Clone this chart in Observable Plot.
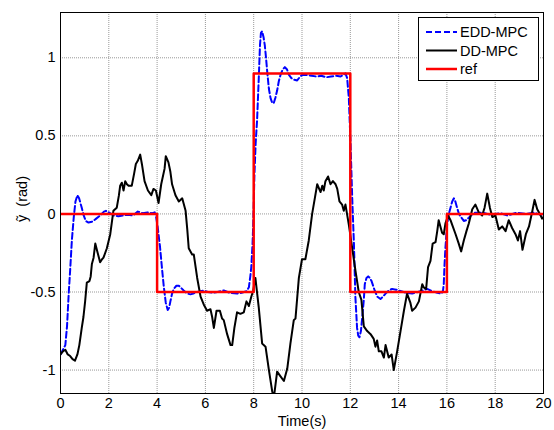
<!DOCTYPE html>
<html>
<head>
<meta charset="utf-8">
<script src="https://cdn.jsdelivr.net/npm/d3@7"></script>
<script src="https://cdn.jsdelivr.net/npm/@observablehq/plot@0.6"></script>
<style>
  html, body { margin: 0; padding: 0; background: #fff; }
  #chart { position: relative; width: 554px; height: 430px; }
</style>
</head>
<body>
<div id="chart"></div>
<script>
// ---- Data ----
const xTicks = [0, 2, 4, 6, 8, 10, 12, 14, 16, 18, 20];
const yTicks = [-1, -0.5, 0, 0.5, 1];
const seriesNames = ["EDD-MPC", "DD-MPC", "ref"];
const xLabel = "Time(s)";
const yLabel = "ỹ\u00a0\u00a0(rad)";

// EDD-MPC (blue dashed)
const eddT = [0.0,0.1,0.2,0.27,0.34,0.4,0.47,0.55,0.62,0.7,0.77,0.88,0.96,1.05,1.16,1.3,1.44,1.64,1.8,1.88,2.0,2.2,2.4,2.6,2.8,3.0,3.2,3.4,3.6,3.8,3.9,3.96,4.02,4.12,4.21,4.28,4.36,4.44,4.5,4.55,4.62,4.69,4.8,4.9,5.0,5.1,5.25,5.38,5.5,5.66,5.8,5.93,6.1,6.3,6.5,6.76,7.0,7.31,7.5,7.7,7.8,7.86,7.9,7.95,7.98,8.03,8.08,8.14,8.21,8.26,8.3,8.35,8.41,8.46,8.51,8.56,8.63,8.7,8.77,8.83,8.9,8.97,9.04,9.11,9.2,9.29,9.38,9.46,9.56,9.66,9.8,9.9,10.0,10.2,10.4,10.6,10.8,11.0,11.2,11.4,11.6,11.8,11.87,11.94,12.01,12.08,12.15,12.21,12.28,12.33,12.38,12.44,12.49,12.56,12.6,12.67,12.74,12.81,12.88,13.01,13.12,13.25,13.35,13.46,13.6,13.73,13.9,14.01,14.3,14.56,14.8,15.0,15.18,15.4,15.6,15.78,15.84,15.87,15.9,15.94,16.01,16.08,16.15,16.22,16.29,16.35,16.42,16.5,16.56,16.7,16.8,16.91,17.11,17.5,17.8,18.2,18.5,18.9,19.3,19.6,19.9,20.0];
const eddV = [-0.90,-0.87,-0.84,-0.72,-0.51,-0.36,-0.17,-0.02,0.08,0.12,0.10,0.04,-0.01,-0.045,-0.055,-0.05,-0.035,-0.01,0.015,0.02,0.01,-0.01,-0.015,-0.01,-0.005,-0.01,0.015,0.005,0.01,0.005,0.01,-0.02,-0.08,-0.21,-0.36,-0.47,-0.57,-0.615,-0.60,-0.56,-0.51,-0.48,-0.46,-0.46,-0.475,-0.49,-0.51,-0.515,-0.51,-0.50,-0.495,-0.49,-0.50,-0.505,-0.50,-0.49,-0.505,-0.51,-0.505,-0.495,-0.47,-0.40,-0.34,-0.20,-0.07,0.25,0.45,0.60,0.87,1.08,1.16,1.17,1.13,1.08,1.00,0.91,0.80,0.74,0.71,0.71,0.745,0.79,0.85,0.89,0.925,0.94,0.925,0.89,0.87,0.86,0.855,0.875,0.89,0.89,0.885,0.88,0.885,0.875,0.88,0.885,0.88,0.90,0.87,0.74,0.45,0.10,-0.19,-0.53,-0.73,-0.78,-0.79,-0.75,-0.67,-0.55,-0.45,-0.41,-0.40,-0.41,-0.43,-0.49,-0.53,-0.545,-0.53,-0.51,-0.49,-0.48,-0.485,-0.49,-0.505,-0.51,-0.50,-0.49,-0.48,-0.495,-0.505,-0.51,-0.49,-0.45,-0.33,-0.215,-0.066,0.0,0.04,0.08,0.10,0.08,0.04,0.0,-0.015,-0.045,-0.04,-0.024,0.008,0.008,-0.005,0.005,-0.01,0.008,0.0,0.008,-0.005,0.0];

// DD-MPC (black solid)
const ddT = [0.0,0.1,0.2,0.3,0.4,0.5,0.6,0.7,0.78,0.88,0.95,1.02,1.09,1.2,1.25,1.3,1.37,1.44,1.54,1.64,1.72,1.78,1.92,2.06,2.19,2.33,2.42,2.47,2.54,2.61,2.68,2.75,2.82,2.95,3.05,3.12,3.2,3.3,3.37,3.48,3.62,3.76,3.85,3.95,4.06,4.17,4.31,4.36,4.47,4.55,4.62,4.76,4.9,5.04,5.18,5.25,5.31,5.45,5.52,5.66,5.8,5.93,6.07,6.21,6.28,6.35,6.46,6.6,6.69,6.76,6.9,7.04,7.11,7.2,7.31,7.45,7.59,7.7,7.8,7.9,7.98,8.07,8.21,8.35,8.49,8.63,8.77,8.84,8.97,9.11,9.25,9.39,9.52,9.66,9.73,9.87,10.0,10.14,10.28,10.42,10.53,10.63,10.77,10.84,10.9,10.97,11.08,11.18,11.28,11.39,11.46,11.55,11.66,11.73,11.8,11.94,12.08,12.21,12.35,12.46,12.56,12.7,12.84,12.97,13.04,13.11,13.18,13.29,13.39,13.46,13.59,13.71,13.8,13.94,14.08,14.22,14.35,14.49,14.56,14.7,14.84,14.98,15.04,15.14,15.22,15.32,15.41,15.53,15.6,15.66,15.73,15.8,15.87,15.94,16.05,16.15,16.22,16.36,16.49,16.59,16.7,16.81,16.91,17.05,17.18,17.32,17.46,17.56,17.67,17.78,17.88,18.01,18.15,18.29,18.43,18.56,18.7,18.84,18.94,19.03,19.13,19.27,19.4,19.54,19.63,19.74,19.85,19.94,20.0];
const ddV = [-0.90,-0.88,-0.87,-0.90,-0.91,-0.93,-0.94,-0.90,-0.84,-0.73,-0.66,-0.56,-0.44,-0.43,-0.40,-0.32,-0.28,-0.19,-0.25,-0.31,-0.29,-0.28,-0.22,-0.13,0.02,0.04,0.12,0.18,0.20,0.15,0.21,0.19,0.18,0.18,0.26,0.32,0.34,0.38,0.32,0.21,0.15,0.12,0.16,0.15,0.07,0.19,0.29,0.37,0.33,0.27,0.19,0.12,0.08,0.10,0.02,-0.10,-0.22,-0.26,-0.26,-0.41,-0.53,-0.58,-0.62,-0.61,-0.66,-0.73,-0.62,-0.62,-0.67,-0.68,-0.77,-0.84,-0.84,-0.73,-0.63,-0.64,-0.63,-0.56,-0.59,-0.53,-0.49,-0.41,-0.60,-0.83,-0.85,-1.00,-1.14,-1.17,-1.01,-1.04,-1.07,-0.99,-0.83,-0.68,-0.67,-0.41,-0.29,-0.29,-0.17,0.0,0.10,0.19,0.14,0.18,0.15,0.21,0.24,0.19,0.21,0.19,0.16,0.08,0.06,0.02,0.06,-0.07,-0.22,-0.36,-0.50,-0.55,-0.72,-0.75,-0.77,-0.80,-0.85,-0.81,-0.88,-0.88,-0.92,-0.84,-0.92,-0.90,-1.00,-0.88,-0.75,-0.62,-0.51,-0.57,-0.62,-0.60,-0.56,-0.45,-0.47,-0.48,-0.34,-0.30,-0.19,-0.18,-0.11,-0.04,-0.08,-0.12,-0.13,-0.06,-0.01,-0.04,-0.07,-0.13,-0.19,-0.24,-0.17,-0.11,-0.06,0.03,0.06,0.01,-0.01,0.04,0.13,0.04,-0.02,-0.01,-0.10,-0.08,-0.11,-0.04,-0.09,-0.13,-0.17,-0.11,-0.23,-0.13,-0.08,0.02,0.09,0.03,0.0,-0.03,-0.02];

// ref (red step)
const refT = [0, 4, 8, 12, 16, 20];
const refV = [0, -0.5, 0.9, -0.5, 0, 0];

const colors = ["#0000ff", "#000000", "#ff0000"];

// ---- Build tables ----
const edd = eddT.map((t, i) => ({t, v: eddV[i]}));
const dd = ddT.map((t, i) => ({t, v: ddV[i]}));
const ref = refT.map((t, i) => ({t, v: refV[i]}));

const FONT = "'Liberation Sans', Arial, Helvetica, sans-serif";

const plot = Plot.plot({
  width: 554,
  height: 430,
  marginLeft: 60,
  marginRight: 11,
  marginTop: 12,
  marginBottom: 37,
  style: {fontFamily: FONT, fontSize: "14.5px", background: "white", color: "black", overflow: "visible"},
  x: {domain: [0, 20]},
  y: {domain: [-1.15, 1.29]},
  marks: [
    Plot.gridX(xTicks, {stroke: "#999", strokeOpacity: 1, strokeWidth: 1, strokeDasharray: "1,1"}),
    Plot.gridY(yTicks, {stroke: "#999", strokeOpacity: 1, strokeWidth: 1, strokeDasharray: "1,1"}),
    Plot.line(edd, {x: "t", y: "v", stroke: colors[0], strokeWidth: 2, strokeDasharray: "6,3", clip: true}),
    Plot.line(dd, {x: "t", y: "v", stroke: colors[1], strokeWidth: 2, clip: true}),
    Plot.line(ref, {x: "t", y: "v", curve: "step-after", stroke: colors[2], strokeWidth: 2.5, clip: true}),
    Plot.frame({stroke: "black", strokeWidth: 1}),
    Plot.axisX(xTicks, {tickSize: 0, tickPadding: 4, tickFormat: d => String(d), label: null}),
    Plot.axisY(yTicks, {tickSize: 0, tickPadding: 5, tickFormat: d => String(d), label: null}),
    Plot.text([xLabel], {frameAnchor: "bottom", dy: 28, lineAnchor: "middle", text: d => d, fontSize: 14.5}),
    Plot.text([yLabel], {frameAnchor: "left", dx: -38, dy: -4, rotate: -90, textAnchor: "middle", lineAnchor: "middle", text: d => d, fontSize: 14.5})
  ]
});

document.getElementById("chart").appendChild(plot);

// ---- Legend (top-right box) ----
const svg = d3.select(plot);
const lg = svg.append("g").attr("font-family", FONT).attr("font-size", 14.5).attr("text-anchor", "start");
lg.append("rect").attr("x", 418.5).attr("y", 17.5).attr("width", 120).attr("height", 63)
  .attr("fill", "white").attr("stroke", "black").attr("stroke-width", 1);
const rowY = [32, 50.5, 69];
seriesNames.forEach((name, i) => {
  lg.append("line").attr("x1", 426).attr("x2", 457).attr("y1", rowY[i]).attr("y2", rowY[i])
    .attr("stroke", colors[i]).attr("stroke-width", i === 2 ? 2.5 : 2)
    .attr("stroke-dasharray", i === 0 ? "6,3" : null);
  lg.append("text").attr("x", 460).attr("y", rowY[i]).attr("dy", "0.35em")
    .attr("text-anchor", "start").attr("fill", "black").text(name);
});
</script>
</body>
</html>
